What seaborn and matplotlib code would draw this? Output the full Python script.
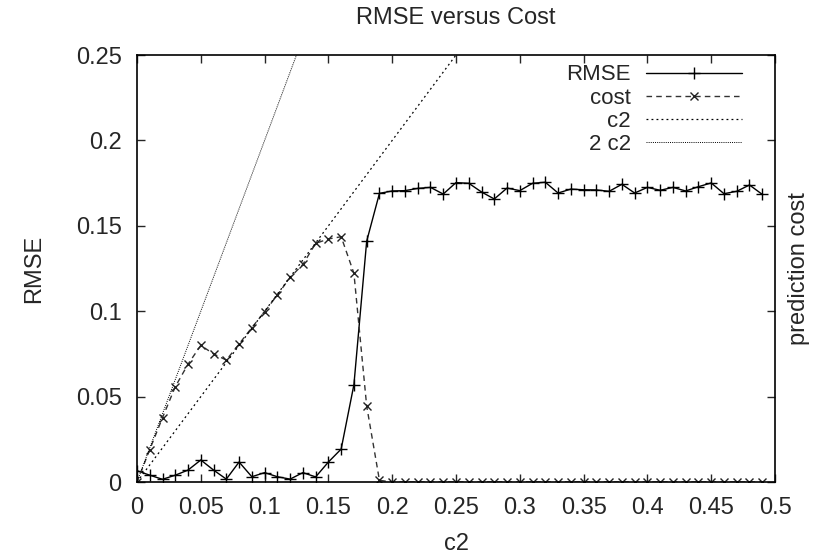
#!/usr/bin/env python3
# RMSE versus Cost chart, gnuplot look with seaborn/matplotlib

import numpy as np
import seaborn as sns
import matplotlib
matplotlib.use("Agg")
import matplotlib.pyplot as plt
from matplotlib.ticker import FormatStrFormatter

# c2 sample points
c2 = [round(0.01 * i, 2) for i in range(50)]

rmse = [0.0066, 0.0040, 0.0016, 0.0040, 0.0070, 0.0129, 0.0070, 0.0017, 0.0117, 0.0031,
        0.0055, 0.0031, 0.0017, 0.0055, 0.0030, 0.0117, 0.0193, 0.0570, 0.1410, 0.1690,
        0.1704, 0.1706, 0.1719, 0.1725, 0.1686, 0.1753, 0.1749, 0.1698, 0.1657, 0.1721,
        0.1706, 0.1749, 0.1755, 0.1692, 0.1715, 0.1711, 0.1710, 0.1702, 0.1743, 0.1692,
        0.1725, 0.1708, 0.1725, 0.1704, 0.1729, 0.1751, 0.1688, 0.1702, 0.1739, 0.1684]

cost = [0.0000, 0.0190, 0.0377, 0.0558, 0.0690, 0.0800, 0.0750, 0.0714, 0.0808, 0.0904,
        0.0997, 0.1095, 0.1198, 0.1274, 0.1397, 0.1423, 0.1436, 0.1222, 0.0445, 0.0010,
        0, 0, 0, 0, 0, 0, 0, 0, 0, 0,
        0, 0, 0, 0, 0, 0, 0, 0, 0, 0,
        0, 0, 0, 0, 0, 0, 0, 0, 0, 0]

# reference lines y = c2 and y = 2 c2
line_x = [0.0, 0.5]

FS = 17


def main():
    sns.set_style("ticks")
    plt.rcParams["font.family"] = ["Liberation Sans", "DejaVu Sans"]

    fig = plt.figure(figsize=(8.14, 5.59), dpi=100)
    ax = fig.add_axes([0.1683, 0.1377, 0.7838, 0.7639])

    sns.lineplot(x=c2, y=rmse, ax=ax, color="black", lw=1.0, marker="+",
                 markersize=8, markeredgewidth=1.0, markeredgecolor="black",
                 label="RMSE")
    sns.lineplot(x=c2, y=cost, ax=ax, color="#333333", lw=1.0, marker="x",
                 markersize=5.5, markeredgewidth=1.0, markeredgecolor="#222222",
                 label="cost")
    ax.lines[-1].set_dashes([4, 3])
    ax.plot(line_x, [v for v in line_x], color="black", lw=0.9,
            dashes=[1.5, 2.5], label="c2")
    ax.plot(line_x, [2 * v for v in line_x], color="black", lw=0.7,
            dashes=[1, 1.2], label="2 c2")

    ax.set_xlim(0, 0.5)
    ax.set_ylim(0, 0.25)
    ax.set_xticks(np.arange(0, 0.501, 0.05))
    ax.set_yticks(np.arange(0, 0.251, 0.05))
    ax.xaxis.set_major_formatter(FormatStrFormatter("%g"))
    ax.yaxis.set_major_formatter(FormatStrFormatter("%g"))
    ax.tick_params(direction="in", top=True, right=True, length=6, width=1.0,
                   labelsize=FS, pad=11)
    for s in ax.spines.values():
        s.set_linewidth(1.2)
        s.set_color("black")

    ax.set_title("RMSE versus Cost", fontsize=FS, pad=22)
    ax.set_xlabel("c2", fontsize=FS, labelpad=10)
    ax.set_ylabel("RMSE", fontsize=FS, labelpad=22)
    fig.text(0.982, 0.5195, "prediction cost", rotation=90, fontsize=FS,
             ha="center", va="center")

    ax.legend(loc="upper right", bbox_to_anchor=(0.948, 0.978), frameon=False,
              markerfirst=False, fontsize=16, handlelength=4.3, borderaxespad=0,
              borderpad=0, labelspacing=0.1, handletextpad=0.7)

    fig.savefig("out.png", dpi=100)


if __name__ == "__main__":
    main()
